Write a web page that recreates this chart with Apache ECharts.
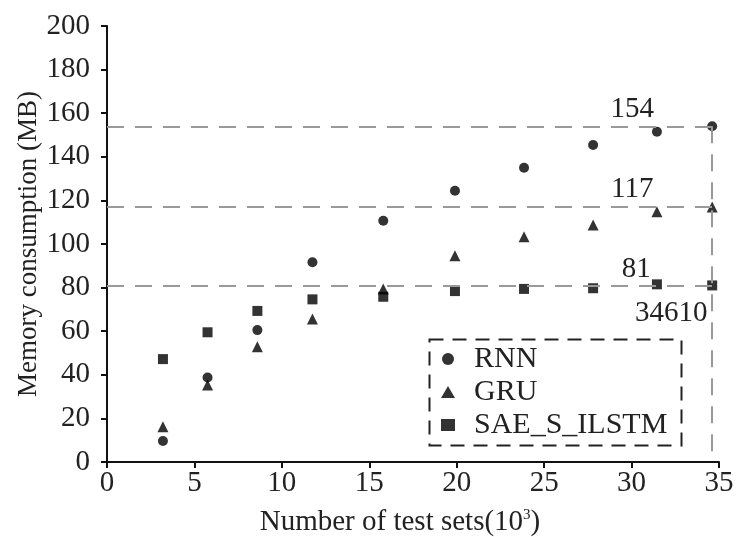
<!DOCTYPE html>
<html>
<head>
<meta charset="utf-8">
<script src="https://cdn.jsdelivr.net/npm/echarts@6/dist/echarts.min.js"></script>
<style>
  html, body { margin: 0; padding: 0; background: #fff; }
  #chart { width: 738px; height: 537px; }
</style>
</head>
<body>
<div id="chart"></div>
<script>
// test-set sizes (x 10^3)
var testSets = [3.2, 5.75, 8.6, 11.75, 15.8, 19.9, 23.85, 27.8, 31.45, 34.61];
var rnnMem = [9.6, 38.8, 60.5, 91.6, 110.7, 124.4, 135, 145.4, 151.5, 154];
var gruMem = [16.2, 35.3, 52.9, 65.6, 79.4, 94.6, 103.3, 108.7, 114.8, 117];
var saeMem = [47.2, 59.5, 69.3, 74.6, 75.8, 78.4, 79.4, 79.7, 81.5, 81];
var seriesNames = ["RNN", "GRU", "SAE_S_ILSTM"];
// reference values marked with dashed guides
var refLevels = [154, 117, 81];
var refX = 34.61;
var refXLabel = "34610";

var FONT = "Liberation Serif";

function pairs(xs, ys) {
  return xs.map(function (x, i) { return [x, ys[i]]; });
}

var guideStyle = { color: "#999", type: [17, 11], width: 2 };

var markLines = refLevels.map(function (v) {
  return [{ coord: [0, v] }, { coord: [refX, v] }];
});
markLines.push([{ coord: [refX, refLevels[0]] }, { coord: [refX, 0] }]);

var labelOffsets = [[-80, -17], [-80, -18], [-76, -16]];
var markPoints = refLevels.map(function (v, i) {
  return { coord: [refX, v], value: String(v), label: { offset: labelOffsets[i] } };
});
markPoints.push({ coord: [refX, refLevels[2]], value: refXLabel, label: { offset: [-41, 28] } });

var chart = echarts.init(document.getElementById("chart"));
chart.setOption({
  animation: false,
  textStyle: { fontFamily: FONT },
  grid: { left: 107, right: 19, top: 26, bottom: 75, outerBoundsMode: "none", containLabel: false },
  xAxis: {
    type: "value",
    min: 0, max: 35, interval: 5,
    name: "Number of test sets(10{sup|3})",
    nameLocation: "middle",
    nameGap: 46,
    nameMoveOverlap: false,
    nameTextStyle: {
      fontFamily: FONT, fontSize: 29, color: "#222", padding: [0, 26, 0, 0],
      rich: { sup: { fontFamily: FONT, fontSize: 15, color: "#222", verticalAlign: "top", padding: [0, 0, 10, 0] } }
    },
    axisLine: { lineStyle: { color: "#111", width: 2 } },
    axisTick: { inside: false, length: 6, lineStyle: { color: "#111", width: 2 } },
    axisLabel: { fontFamily: FONT, fontSize: 29, color: "#222", margin: 7 },
    splitLine: { show: false }
  },
  yAxis: {
    type: "value",
    min: 0, max: 200, interval: 20,
    name: "Memory consumption (MB)",
    nameLocation: "middle",
    nameGap: 65,
    nameMoveOverlap: false,
    nameTextStyle: { fontFamily: FONT, fontSize: 27, color: "#222" },
    axisLine: { show: true, lineStyle: { color: "#111", width: 2 } },
    axisTick: { show: true, inside: false, length: 6, lineStyle: { color: "#111", width: 2 } },
    axisLabel: { fontFamily: FONT, fontSize: 29, color: "#222", margin: 17 },
    splitLine: { show: false }
  },
  legend: {
    orient: "vertical",
    left: 436, top: 339,
    itemWidth: 14, itemHeight: 12,
    itemGap: 3,
    textStyle: { fontFamily: FONT, fontSize: 30, color: "#222", padding: [0, 0, 0, 14] },
    data: seriesNames
  },
  graphic: [{
    type: "rect",
    left: 427, top: 337,
    shape: { width: 252, height: 106 },
    style: { fill: "none", stroke: "#222", lineWidth: 2, lineDash: [14, 9] },
    silent: true
  }],
  series: [
    {
      name: seriesNames[0], type: "scatter", symbol: "circle", symbolSize: 10,
      itemStyle: { color: "#000" },
      data: pairs(testSets, rnnMem),
      z: 3,
      markLine: {
        silent: true, symbol: "none",
        lineStyle: guideStyle,
        label: { show: false },
        data: markLines
      },
      markPoint: {
        silent: true, symbol: "circle", symbolSize: 0,
        label: { show: true, position: "inside", fontFamily: FONT, fontSize: 29, color: "#222",
                 formatter: function (p) { return p.value; } },
        data: markPoints
      }
    },
    {
      name: seriesNames[1], type: "scatter", symbol: "triangle", symbolSize: 11,
      itemStyle: { color: "#000" },
      data: pairs(testSets, gruMem), z: 3
    },
    {
      name: seriesNames[2], type: "scatter", symbol: "rect", symbolSize: 10,
      itemStyle: { color: "#000" },
      data: pairs(testSets, saeMem), z: 3
    }
  ]
});
</script>
</body>
</html>
